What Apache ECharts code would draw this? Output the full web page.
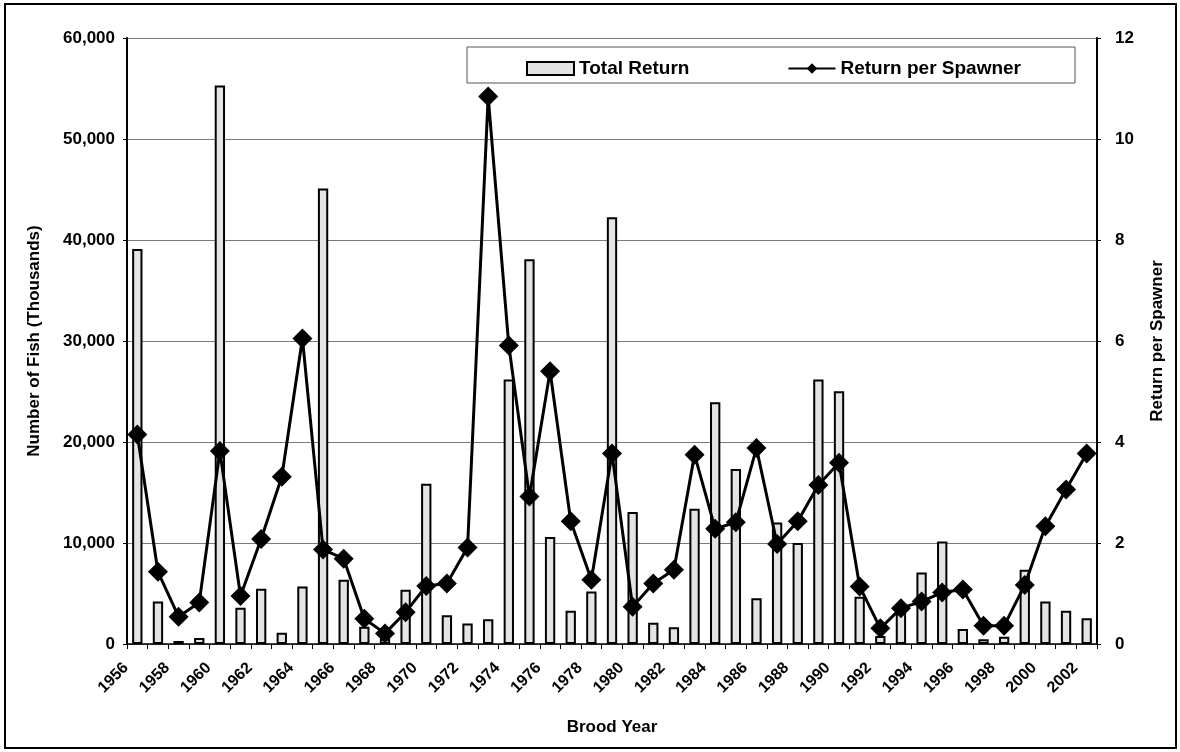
<!DOCTYPE html>
<html>
<head>
<meta charset="utf-8">
<script src="https://cdn.jsdelivr.net/npm/echarts@6/dist/echarts.min.js"></script>
<style>
html,body{margin:0;padding:0;background:#fff;}
#c{width:1180px;height:752px;}
</style>
</head>
<body>
<div id="c"></div>
<script>
const years = [];
for (let y = 1956; y <= 2002; y++) years.push(String(y));

// Total Return (thousands of fish)
const totalReturn = [
  39100, 4200, 300, 600, 55300, 3600, 5460, 1120, 5690, 45100,
  6350, 1720, 500, 5360, 15870, 2840, 2020, 2450, 26200, 38100,
  10590, 3300, 5190, 42260, 13060, 2110, 1650, 13390, 23940, 17330,
  4530, 12030, 9990, 26200, 25030, 4690, 800, 3300, 7070, 10150,
  1490, 470, 730, 7340, 4200, 3300, 2550
];
// Return per Spawner
const returnPerSpawner = [
  4.15, 1.43, 0.54, 0.82, 3.82, 0.95, 2.08, 3.31, 6.05, 1.87,
  1.69, 0.50, 0.21, 0.63, 1.15, 1.20, 1.91, 10.84, 5.91, 2.92,
  5.40, 2.43, 1.27, 3.77, 0.74, 1.20, 1.47, 3.75, 2.28, 2.41,
  3.88, 1.98, 2.43, 3.15, 3.59, 1.14, 0.31, 0.71, 0.84, 1.02,
  1.08, 0.36, 0.36, 1.17, 2.33, 3.06, 3.77
];

const FONT = '"Liberation Sans", Arial, sans-serif';
const chart = echarts.init(document.getElementById('c'), null, {renderer: 'canvas'});

const option = {
  backgroundColor: '#fff',
  animation: false,
  textStyle: {fontFamily: FONT},
  grid: {left: 127, right: 83, top: 38, bottom: 108},
  legend: {
    left: 521, top: 54,
    itemWidth: 47, itemHeight: 13, itemGap: 98,
    textStyle: {fontFamily: FONT, fontWeight: 'bold', fontSize: 19, color: '#000'},
    data: [
      {name: 'Total Return', icon: 'rect'},
      {name: 'Return per Spawner'}
    ]
  },
  graphic: [
    {type: 'rect', shape: {x: 5, y: 4, width: 1171, height: 744},
     style: {fill: 'none', stroke: '#000', lineWidth: 2}, silent: true},
    {type: 'rect', shape: {x: 467, y: 47, width: 608, height: 36},
     style: {fill: 'none', stroke: '#555', lineWidth: 1}, silent: true, z: 0}
  ],
  xAxis: {
    type: 'category',
    data: years,
    boundaryGap: true,
    name: 'Brood Year',
    nameLocation: 'middle',
    nameGap: 75,
    nameTextStyle: {fontFamily: FONT, fontWeight: 'bold', fontSize: 17, color: '#000'},
    axisLine: {lineStyle: {color: '#000', width: 1.5}},
    axisTick: {show: true, interval: 0, length: 5, lineStyle: {color: '#000'}},
    axisLabel: {interval: 1, rotate: 45, fontWeight: 'bold', fontSize: 16, color: '#000',
                fontFamily: FONT, margin: 10, padding: [0, 16, 0, 0]},
    splitLine: {show: false}
  },
  yAxis: [
    {
      type: 'value', min: 0, max: 60000, interval: 10000,
      name: 'Number of Fish (Thousands)',
      nameLocation: 'middle', nameGap: 84, nameRotate: 90,
      nameTextStyle: {fontFamily: FONT, fontWeight: 'bold', fontSize: 17, color: '#000'},
      axisLine: {show: true, lineStyle: {color: '#000', width: 2}},
      axisTick: {show: true, length: 4, lineStyle: {color: '#000'}},
      axisLabel: {fontWeight: 'bold', fontSize: 17, color: '#000', fontFamily: FONT, margin: 12,
                  formatter: v => v.toLocaleString('en-US')},
      splitLine: {show: true, lineStyle: {color: '#7a7a7a', width: 1}}
    },
    {
      type: 'value', min: 0, max: 12, interval: 2,
      name: 'Return per Spawner',
      nameLocation: 'middle', nameGap: 52, nameRotate: 90,
      nameTextStyle: {fontFamily: FONT, fontWeight: 'bold', fontSize: 17, color: '#000'},
      axisLine: {show: true, lineStyle: {color: '#000', width: 2}},
      axisTick: {show: true, length: 4, lineStyle: {color: '#000'}},
      axisLabel: {fontWeight: 'bold', fontSize: 17, color: '#000', fontFamily: FONT, margin: 18},
      splitLine: {show: false}
    }
  ],
  series: [
    {
      name: 'Total Return',
      type: 'bar',
      yAxisIndex: 0,
      data: totalReturn,
      barWidth: '50%',
      itemStyle: {color: '#e4e4e4', borderColor: '#000', borderWidth: 2},
      z: 2
    },
    {
      name: 'Return per Spawner',
      type: 'line',
      yAxisIndex: 1,
      data: returnPerSpawner,
      symbol: 'diamond',
      symbolSize: 20,
      showAllSymbol: true,
      lineStyle: {color: '#000', width: 3},
      itemStyle: {color: '#000'},
      z: 3
    }
  ]
};
chart.setOption(option);
</script>
</body>
</html>
